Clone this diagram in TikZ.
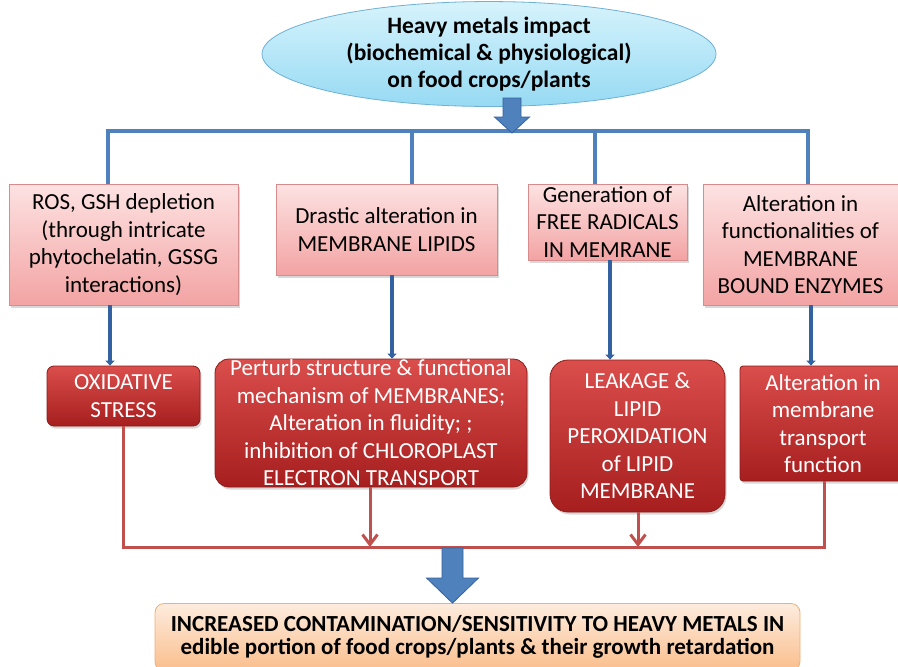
\documentclass[tikz,border=0pt]{standalone}
\usepackage{fontspec}
\setmainfont{Carlito}
\usetikzlibrary{shapes.geometric,shadows,arrows.meta,calc}
\definecolor{lineblue}{RGB}{79,129,189}
\definecolor{darkblue}{RGB}{52,98,160}
\definecolor{ellT}{RGB}{214,243,252}
\definecolor{ellB}{RGB}{150,218,243}
\definecolor{ellD}{RGB}{110,176,214}
\definecolor{pinkT}{RGB}{253,226,226}
\definecolor{pinkB}{RGB}{243,163,163}
\definecolor{pinkD}{RGB}{214,140,140}
\definecolor{redT}{RGB}{218,78,76}
\definecolor{redB}{RGB}{166,30,30}
\definecolor{redD}{RGB}{140,28,26}
\definecolor{redline}{RGB}{192,80,77}
\definecolor{orT}{RGB}{253,236,222}
\definecolor{orB}{RGB}{250,190,140}
\definecolor{orD}{RGB}{240,175,120}
\tikzset{
  txt/.style={font=\fontsize{23}{27.5}\selectfont, align=center, inner sep=0pt},
  pinkbox/.style={txt, rectangle, draw=pinkD, line width=0.8pt, top color=pinkT, bottom color=pinkB, text=black,
    drop shadow={shadow xshift=1.5pt, shadow yshift=-2.5pt, opacity=0.3}},
  redbox/.style={txt, rectangle, rounded corners=#1, draw=redD, line width=0.8pt, top color=redT, bottom color=redB, text=white,
    drop shadow={shadow xshift=1.5pt, shadow yshift=-2.5pt, opacity=0.3}},
  redbox/.default=8pt,
  bl/.style={draw=lineblue, line width=3.5pt},
  bd/.style={draw=darkblue, line width=4.5pt, -{Triangle[width=9pt,length=5pt]}},
  rl/.style={draw=redline, line width=3pt},
  ra/.style={rl, -{Straight Barb[length=10pt,width=15pt,line width=3pt]}},
  barrow/.style={fill=lineblue, draw=darkblue, line width=0.8pt, line join=miter},
}
\begin{document}
\begin{tikzpicture}[x=1pt,y=-1pt]
\useasboundingbox (0,0) rectangle (898,667);
\clip (0,0) rectangle (898,667);
\fill[white] (0,0) rectangle (898,667);

% top ellipse
\node[ellipse, draw=ellD, line width=0.8pt, top color=ellT, bottom color=ellB, minimum width=454pt, minimum height=92pt, inner sep=0pt,
      font=\bfseries\fontsize{23.5}{27}\selectfont, align=center] (top) at (489,54)
  {Heavy metals impact\\(biochemical \& physiological)\\on food crops/plants};

% first-level boxes
\node[pinkbox, minimum width=229pt, minimum height=121pt] (b1) at (123.5,244.5)
  {ROS, GSH depletion\\(through intricate\\phytochelatin, GSSG\\interactions)};
\node[pinkbox, minimum width=221pt, minimum height=91pt] (b2) at (386.5,229.5)
  {Drastic alteration in\\MEMBRANE LIPIDS};
\node[pinkbox, minimum width=159pt, minimum height=76pt] (b3) at (607.5,222)
  {Generation of\\FREE RADICALS\\IN MEMRANE};
\node[pinkbox, minimum width=195pt, minimum height=121pt] (b4) at (800.5,244.5)
  {Alteration in\\functionalities of\\MEMBRANE\\BOUND ENZYMES};

% second-level boxes
\node[redbox=7pt, minimum width=153pt, minimum height=60pt] (r1) at (123.5,396)
  {OXIDATIVE\\STRESS};
\node[redbox=14pt, minimum width=312pt, minimum height=128pt] (r2) at (371,423)
  {Perturb structure \& functional\\mechanism of MEMBRANES;\\Alteration in fluidity; ;\\inhibition of CHLOROPLAST\\ELECTRON TRANSPORT};
\node[redbox=18pt, minimum width=175pt, minimum height=152pt] (r3) at (637.5,436)
  {LEAKAGE \&\\LIPID\\PEROXIDATION\\of LIPID\\MEMBRANE};
\node[redbox=3pt, minimum width=166pt, minimum height=115pt] (r4) at (823,423.5)
  {Alteration in\\membrane\\transport\\function};

% bottom box
\node[txt, rectangle, rounded corners=9pt, draw=orD, line width=0.8pt, top color=orT, bottom color=orB,
      font=\bfseries\fontsize{23}{23.5}\selectfont, minimum width=645pt, minimum height=67pt] (bot) at (477.5,637)
  {INCREASED CONTAMINATION/SENSITIVITY TO HEAVY METALS IN\\edible portion of food crops/plants \& their growth retardation};

% blue distribution tree
\coordinate (hl) at (108,131);
\coordinate (h2) at (412,131);
\coordinate (h3) at (595,131);
\coordinate (hr) at (808,131);
\draw[bl] (hl |- b1.north) -- (hl) -- (hr) -- (hr |- b4.north);
\draw[bl] (h2) -- (h2 |- b2.north);
\draw[bl] (h3) -- (h3 |- b3.north);

% top block arrow
\coordinate (tA) at (512,98);
\coordinate (tB) at (512,133);
\filldraw[barrow] ($(tA)+(-9,0)$) -- ($(tA)+(9,0)$) -- ($(tA)+(9,19)$) -- ($(tA)+(17.5,19)$) -- (tB)
  -- ($(tA)+(-17.5,19)$) -- ($(tA)+(-9,19)$) -- cycle;

% blue arrows from first to second level
\coordinate (d1) at (110,0);
\coordinate (d2) at (392,0);
\coordinate (d3) at (610,0);
\coordinate (d4) at (811,0);
\draw[bd] (d1 |- b1.south) -- (d1 |- r1.north);
\draw[bd] (d2 |- b2.south) -- (d2 |- r2.north);
\draw[bd] (d3 |- b3.south) -- (d3 |- r3.north);
\draw[bd] (d4 |- b4.south) -- (d4 |- r4.north);

% red collector
\coordinate (e1) at (123,547);
\coordinate (e2) at (370,547);
\coordinate (e3) at (638,547);
\coordinate (e4) at (824,547);
\draw[rl] (e1 |- r1.south) -- (e1) -- (e4) -- (e4 |- r4.south);
\draw[ra] (e2 |- r2.south) -- (e2);
\draw[ra] (e3 |- r3.south) -- (e3);

% bottom block arrow
\coordinate (bA) at (452.5,548);
\coordinate (bB) at (bA |- bot.north);
\filldraw[barrow] ($(bA)+(-10.5,0)$) -- ($(bA)+(10.5,0)$) -- ($(bA)+(10.5,30)$) -- ($(bA)+(26,30)$) -- (bB)
  -- ($(bA)+(-26,30)$) -- ($(bA)+(-10.5,30)$) -- cycle;
\end{tikzpicture}
\end{document}
